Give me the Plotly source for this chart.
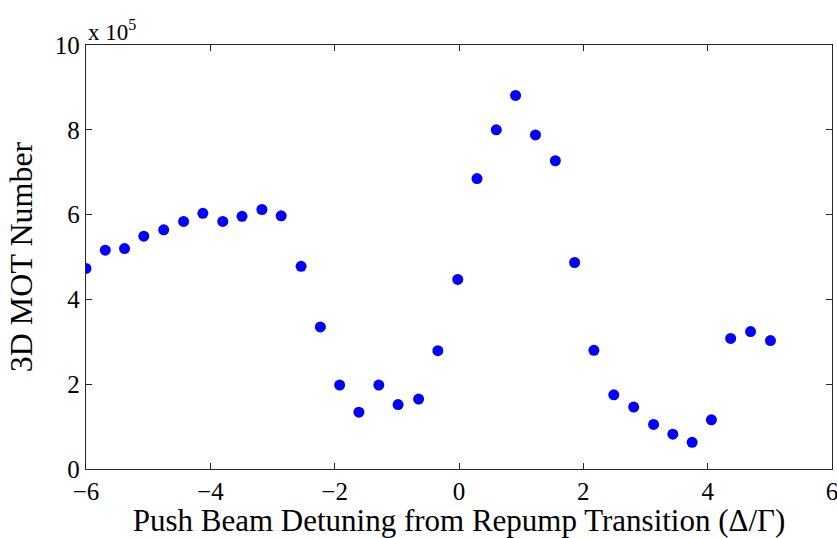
import plotly.graph_objects as go

# Push beam detuning (in units of the natural linewidth Gamma)
detuning = [-6.00, -5.69, -5.38, -5.07, -4.75, -4.43, -4.12, -3.80, -3.49, -3.17,
            -2.86, -2.54, -2.23, -1.92, -1.61, -1.29, -0.98, -0.65, -0.34, -0.02,
            0.29, 0.60, 0.91, 1.23, 1.55, 1.86, 2.17, 2.49, 2.81, 3.13,
            3.44, 3.75, 4.06, 4.37, 4.69, 5.01]

# 3D MOT atom number, in units of 1e5
mot_number = [4.73, 5.16, 5.20, 5.49, 5.64, 5.84, 6.03, 5.84, 5.96, 6.12,
              5.97, 4.78, 3.35, 1.98, 1.34, 1.98, 1.52, 1.65, 2.79, 4.47,
              6.85, 8.00, 8.81, 7.88, 7.27, 4.87, 2.80, 1.75, 1.46, 1.05,
              0.82, 0.63, 1.16, 3.08, 3.24, 3.03]

x_ticks = [-6, -4, -2, 0, 2, 4, 6]
y_ticks = [0, 2, 4, 6, 8, 10]

font_family = "Liberation Serif, Times New Roman, serif"

fig = go.Figure(
    go.Scatter(
        x=detuning,
        y=mot_number,
        mode="markers",
        marker=dict(color="#0000ff", size=11, line=dict(width=0)),
        showlegend=False,
    )
)

axis_common = dict(
    showgrid=False,
    zeroline=False,
    showline=True,
    linecolor="#262626",
    linewidth=1.3,
    mirror="ticks",
    ticks="inside",
    ticklen=6,
    tickwidth=1,
    tickcolor="#262626",
    automargin=False,
    ticklabeloverflow="allow",
    tickfont=dict(family=font_family, size=25, color="black"),
)

fig.update_xaxes(
    range=[-6, 6],
    tickvals=x_ticks,
    title=dict(text="Push Beam Detuning from Repump Transition (Δ/Γ)",
               font=dict(family=font_family, size=31, color="black"),
               standoff=2),
    **axis_common,
)
fig.update_yaxes(
    range=[0, 10],
    tickvals=y_ticks,
    title=dict(text="3D MOT Number",
               font=dict(family=font_family, size=32, color="black"),
               standoff=12),
    **axis_common,
)

fig.add_annotation(
    text="x 10<sup>5</sup>",
    xref="paper", yref="paper",
    x=0, y=1, xanchor="left", yanchor="bottom",
    yshift=-2,
    showarrow=False,
    font=dict(family=font_family, size=23, color="black"),
)

fig.update_layout(
    width=837,
    height=538,
    margin=dict(l=86, r=5, t=45, b=69),
    paper_bgcolor="white",
    plot_bgcolor="white",
)

fig.write_html("out.html")
